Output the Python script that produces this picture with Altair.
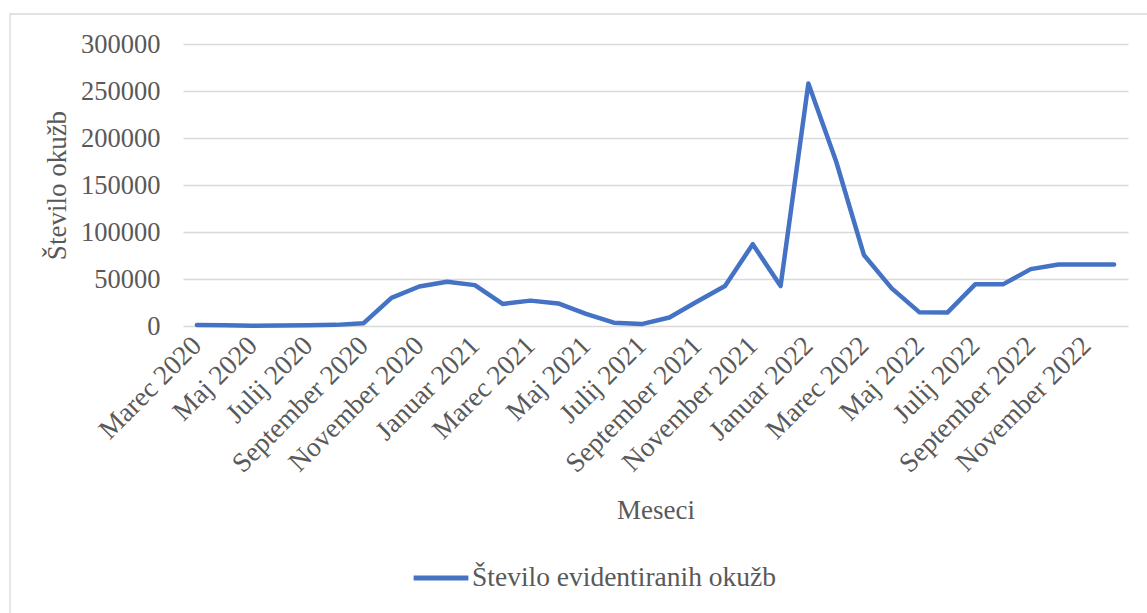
import altair as alt
import pandas as pd

months = [
    "Marec 2020", "April 2020", "Maj 2020", "Junij 2020", "Julij 2020", "Avgust 2020",
    "September 2020", "Oktober 2020", "November 2020", "December 2020",
    "Januar 2021", "Februar 2021", "Marec 2021", "April 2021", "Maj 2021", "Junij 2021",
    "Julij 2021", "Avgust 2021", "September 2021", "Oktober 2021", "November 2021", "December 2021",
    "Januar 2022", "Februar 2022", "Marec 2022", "April 2022", "Maj 2022", "Junij 2022",
    "Julij 2022", "Avgust 2022", "September 2022", "Oktober 2022", "November 2022", "December 2022",
]
infections = [
    1000, 800, 300, 400, 700, 1200,
    3000, 30000, 42000, 47000,
    43500, 23500, 27000, 24000, 12800, 3500,
    2000, 9000, 26000, 42500, 87000, 42500,
    258000, 175000, 75500, 40000, 14500, 14300,
    44300, 44300, 60500, 65500, 65500, 65500,
]
series_name = "Število evidentiranih okužb"
shown_labels = months[::2]

df = pd.DataFrame({"Mesec": months, "Okužbe": infections, "Serija": series_name})

FONT = "Liberation Serif"
GREY = "#595959"

line = alt.Chart(df).mark_line(strokeWidth=4.5, strokeCap="round", strokeJoin="round").encode(
    x=alt.X("Mesec:N", sort=months,
            scale=alt.Scale(type="point", padding=0.5),
            axis=alt.Axis(title="Meseci", values=shown_labels, labelAngle=315,
                          labelAlign="right", labelBaseline="middle",
                          labelPadding=15, ticks=False, domain=False, grid=False,
                          labelFontSize=27.5, titlePadding=20, labelLimit=400)),
    y=alt.Y("Okužbe:Q", scale=alt.Scale(domain=[0, 300000]),
            axis=alt.Axis(title="Število okužb", values=[0, 50000, 100000, 150000, 200000, 250000, 300000],
                          format="d", ticks=False, domain=False, labelPadding=23, labelFontSize=26.5,
                          titlePadding=9, gridColor="#D9D9D9", gridWidth=1.3)),
    color=alt.Color("Serija:N", scale=alt.Scale(range=["#4472C4"]),
                    legend=alt.Legend(title=None, orient="none", legendX=228, legendY=504,
                                      symbolType="stroke", symbolSize=3000, symbolStrokeWidth=5,
                                      labelFontSize=27.5, labelFont=FONT, labelColor=GREY,
                                      labelOffset=1, labelLimit=600)),
)

# chart-area frame (decoration, like the spreadsheet chart border)
frame = alt.Chart(pd.DataFrame({"k": [0]})).mark_rect(
    fill=None, stroke="#D9D9D9", strokeWidth=1.3
).encode(
    x=alt.value(-173), x2=alt.value(990),
    y=alt.value(-30), y2=alt.value(600),
)

chart = alt.layer(frame, line).properties(
    width=945, height=282,
    autosize=alt.AutoSizeParams(type="none"),
    padding={"left": 183, "top": 44, "right": 19, "bottom": 287},
).configure_axis(
    labelFont=FONT, labelColor=GREY,
    titleFont=FONT, titleFontSize=27, titleColor=GREY, titleFontWeight="normal",
).configure_view(stroke=None)

chart.save("out.html", embed_options={"renderer": "svg", "actions": False})
